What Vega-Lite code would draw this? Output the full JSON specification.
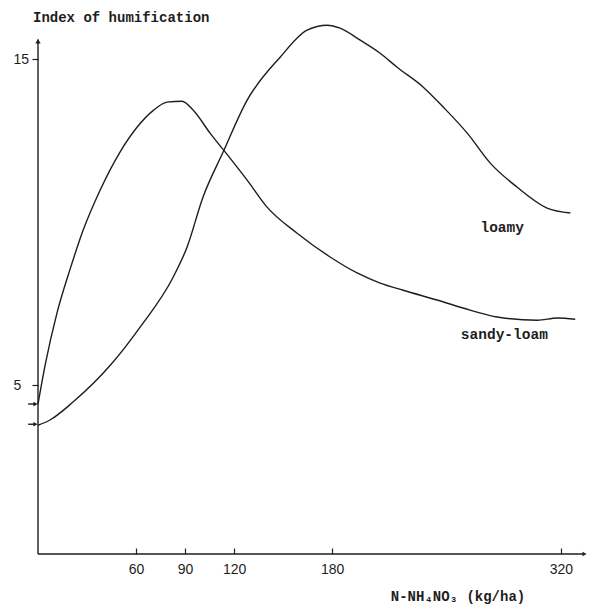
{
  "$schema": "https://vega.github.io/schema/vega-lite/v6.json",
  "width": 549,
  "height": 534,
  "autosize": {"type": "none"},
  "padding": {"left": 38, "top": 20, "right": 2, "bottom": 52},
  "background": "white",
  "config": {"view": {"stroke": null}},
  "datasets": {
    "curves": [
      {"series": "sandy-loam", "x": 0, "y": 4.42},
      {"series": "sandy-loam", "x": 4.3, "y": 5.6},
      {"series": "sandy-loam", "x": 11.6, "y": 7.21},
      {"series": "sandy-loam", "x": 19.6, "y": 8.55},
      {"series": "sandy-loam", "x": 27.6, "y": 9.75},
      {"series": "sandy-loam", "x": 38.0, "y": 10.98},
      {"series": "sandy-loam", "x": 50.2, "y": 12.15},
      {"series": "sandy-loam", "x": 60.6, "y": 12.91},
      {"series": "sandy-loam", "x": 70.4, "y": 13.42},
      {"series": "sandy-loam", "x": 79.0, "y": 13.68},
      {"series": "sandy-loam", "x": 88.2, "y": 13.71},
      {"series": "sandy-loam", "x": 94.9, "y": 13.44},
      {"series": "sandy-loam", "x": 105.3, "y": 12.73},
      {"series": "sandy-loam", "x": 117.6, "y": 11.96},
      {"series": "sandy-loam", "x": 128.0, "y": 11.29},
      {"series": "sandy-loam", "x": 140.2, "y": 10.46},
      {"series": "sandy-loam", "x": 158.6, "y": 9.66},
      {"series": "sandy-loam", "x": 178.8, "y": 8.93},
      {"series": "sandy-loam", "x": 195.3, "y": 8.44},
      {"series": "sandy-loam", "x": 209.4, "y": 8.13},
      {"series": "sandy-loam", "x": 223.5, "y": 7.91},
      {"series": "sandy-loam", "x": 244.3, "y": 7.61},
      {"series": "sandy-loam", "x": 264.5, "y": 7.30},
      {"series": "sandy-loam", "x": 281.0, "y": 7.09},
      {"series": "sandy-loam", "x": 305.6, "y": 6.99},
      {"series": "sandy-loam", "x": 317.8, "y": 7.06},
      {"series": "sandy-loam", "x": 328.8, "y": 7.02},
      {"series": "loamy", "x": 0, "y": 3.77},
      {"series": "loamy", "x": 7.3, "y": 3.93},
      {"series": "loamy", "x": 21.4, "y": 4.48},
      {"series": "loamy", "x": 44.1, "y": 5.6},
      {"series": "loamy", "x": 62.5, "y": 6.78},
      {"series": "loamy", "x": 82.7, "y": 8.31},
      {"series": "loamy", "x": 91.2, "y": 9.23},
      {"series": "loamy", "x": 101.0, "y": 10.77},
      {"series": "loamy", "x": 113.3, "y": 12.15},
      {"series": "loamy", "x": 128.0, "y": 13.74},
      {"series": "loamy", "x": 148.2, "y": 15.06},
      {"series": "loamy", "x": 164.7, "y": 15.89},
      {"series": "loamy", "x": 177.0, "y": 16.04},
      {"series": "loamy", "x": 184.9, "y": 15.95},
      {"series": "loamy", "x": 197.2, "y": 15.58},
      {"series": "loamy", "x": 209.4, "y": 15.18},
      {"series": "loamy", "x": 219.8, "y": 14.75},
      {"series": "loamy", "x": 235.8, "y": 14.14},
      {"series": "loamy", "x": 248.0, "y": 13.53},
      {"series": "loamy", "x": 262.7, "y": 12.73},
      {"series": "loamy", "x": 276.8, "y": 11.81},
      {"series": "loamy", "x": 293.3, "y": 11.07},
      {"series": "loamy", "x": 311.6, "y": 10.43},
      {"series": "loamy", "x": 325.8, "y": 10.28}
    ]
  },
  "layer": [
    {
      "data": {"name": "curves"},
      "mark": {"type": "line", "interpolate": "monotone", "color": "#1e1e1e", "strokeWidth": 1.4},
      "encoding": {
        "x": {
          "field": "x", "type": "quantitative",
          "scale": {"domain": [0, 336], "nice": false, "zero": false},
          "axis": {
            "values": [60, 90, 120, 180, 320],
            "domain": false, "grid": false,
            "tickSize": -6, "tickColor": "#1e1e1e", "tickWidth": 1.2,
            "labelFont": "Liberation Sans", "labelFontSize": 14, "labelColor": "#1e1e1e",
            "labelPadding": 14, "labelFlush": false, "labelBaseline": "top",
            "title": "N-NH₄NO₃ (kg/ha)",
            "titleFont": "Liberation Mono, DejaVu Sans Mono", "titleFontWeight": "bold", "titleFontSize": 14,
            "titleColor": "#1e1e1e",
            "titleX": 419.5, "titleY": 46, "titleAlign": "center", "titleBaseline": "alphabetic"
          }
        },
        "y": {
          "field": "y", "type": "quantitative",
          "scale": {"domain": [-0.18, 16.2], "nice": false, "zero": false},
          "axis": {
            "values": [5, 15],
            "domain": false, "grid": false,
            "tickSize": 6, "tickColor": "#1e1e1e", "tickWidth": 1.2,
            "labelFont": "Liberation Sans", "labelFontSize": 14, "labelColor": "#1e1e1e",
            "labelAlign": "left", "labelPadding": 19,
            "title": "Index of humification",
            "titleFont": "Liberation Mono", "titleFontWeight": "bold", "titleFontSize": 14,
            "titleColor": "#1e1e1e",
            "titleAngle": 0, "titleX": -5.5, "titleY": 1, "titleAlign": "left", "titleBaseline": "alphabetic"
          }
        },
        "detail": {"field": "series", "type": "nominal"}
      }
    },
    {
      "data": {"values": [
        {"x": 0, "y": -0.18, "x2": 0, "y2": 15.6},
        {"x": 0, "y": -0.18, "x2": 334, "y2": -0.18},
        {"x": -6, "y": 4.42, "x2": -1, "y2": 4.42},
        {"x": -6, "y": 3.8, "x2": -1, "y2": 3.8}
      ]},
      "mark": {"type": "rule", "color": "#1e1e1e", "strokeWidth": 1.4},
      "encoding": {
        "x": {"field": "x", "type": "quantitative"},
        "x2": {"field": "x2"},
        "y": {"field": "y", "type": "quantitative"},
        "y2": {"field": "y2"}
      }
    },
    {
      "data": {"values": [{"x": 0, "y": 15.55}]},
      "mark": {"type": "point", "shape": "triangle-up", "filled": true, "color": "#1e1e1e", "size": 28, "opacity": 1},
      "encoding": {
        "x": {"field": "x", "type": "quantitative"},
        "y": {"field": "y", "type": "quantitative"}
      }
    },
    {
      "data": {"values": [{"x": 334.5, "y": -0.18}, {"x": -1.6, "y": 4.42}, {"x": -1.6, "y": 3.8}]},
      "mark": {"type": "point", "shape": "triangle-right", "filled": true, "color": "#1e1e1e", "size": 22, "opacity": 1},
      "encoding": {
        "x": {"field": "x", "type": "quantitative"},
        "y": {"field": "y", "type": "quantitative"}
      }
    },
    {
      "data": {"values": [
        {"label": "loamy", "x": 284.1, "y": 9.69},
        {"label": "sandy-loam", "x": 285.4, "y": 6.41}
      ]},
      "mark": {"type": "text", "font": "Liberation Mono", "fontWeight": "bold", "fontSize": 14.5, "color": "#1e1e1e", "align": "center", "baseline": "alphabetic"},
      "encoding": {
        "x": {"field": "x", "type": "quantitative"},
        "y": {"field": "y", "type": "quantitative"},
        "text": {"field": "label"}
      }
    }
  ]
}
